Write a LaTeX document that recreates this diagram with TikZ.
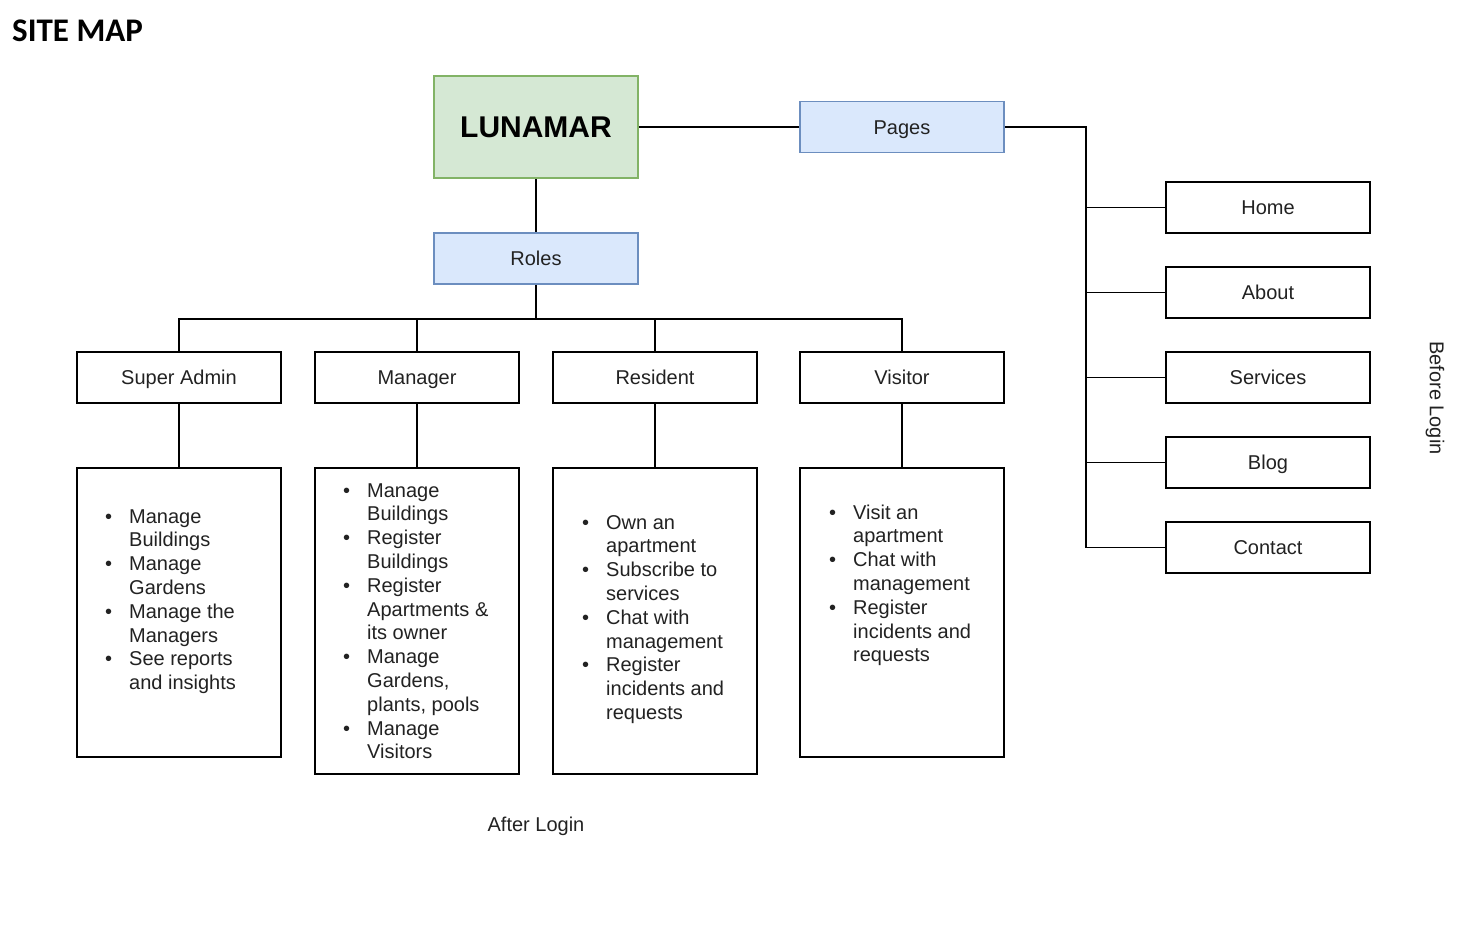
\documentclass[tikz,border=0pt]{standalone}
\usepackage{fontspec}
\setmainfont{Liberation Sans}
\newfontfamily\titlefont{Carlito}
\usetikzlibrary{calc}
\definecolor{greenfill}{HTML}{D5E8D4}
\definecolor{greendraw}{HTML}{82B366}
\definecolor{bluefill}{HTML}{DAE8FC}
\definecolor{bluedraw}{HTML}{6C8EBF}
\definecolor{txt}{HTML}{222222}
\newcommand\bul{\makebox[24pt][l]{\textbullet}}
\begin{document}
\begin{tikzpicture}[x=1pt,y=-1pt,
  font=\fontsize{20}{23.8}\selectfont, text=txt,
  conn/.style={draw=black, line width=1.5pt},
  box/.style={draw=black, fill=white, rectangle, minimum width=204pt, minimum height=51pt, inner sep=0pt, line width=1.5pt, text height=14.4pt, text depth=0pt},
  bluebox/.style={box, draw=bluedraw, fill=bluefill},
  greenbox/.style={box, draw=greendraw, fill=greenfill, minimum height=102pt, text height=21.6pt},
  listbox/.style={box, minimum height=#1},
  listtext/.style={anchor=base west, inner sep=0pt},
  plain/.style={inner sep=0pt}]
\useasboundingbox (0,0) rectangle (1484,946);

% title
\node[anchor=base west, inner sep=0pt, text=black, font=\titlefont\bfseries\fontsize{33}{36}\selectfont] (title) at (12,41) {SITE MAP};

% top level
\node[greenbox, font=\bfseries\fontsize{30}{34}\selectfont, text=black] (lunamar) at (536,127) {LUNAMAR};
\node[bluebox] (pages) at (902,127) {Pages};
\node[bluebox] (roles) at (536,258.5) {Roles};

% roles
\node[box] (sa)  at (179,377.5) {Super Admin};
\node[box] (man) at (417,377.5) {Manager};
\node[box] (res) at (655,377.5) {Resident};
\node[box] (vis) at (902,377.5) {Visitor};

% lists
\node[listbox=289pt] (salist)  at (179,612.5) {};
\node[listbox=306pt] (manlist) at (417,621) {};
\node[listbox=306pt] (reslist) at (655,621) {};
\node[listbox=289pt] (vislist) at (902,612.5) {};

\node[listtext] (satext) at (105,523) {\begin{tabular}[t]{@{}l@{}l@{}}
\bul & Manage\\ & Buildings\\
\bul & Manage\\ & Gardens\\
\bul & Manage the\\ & Managers\\
\bul & See reports\\ & and insights
\end{tabular}};

\node[listtext] (mantext) at (343,497) {\begin{tabular}[t]{@{}l@{}l@{}}
\bul & Manage\\ & Buildings\\
\bul & Register\\ & Buildings\\
\bul & Register\\ & Apartments \&\\ & its owner\\
\bul & Manage\\ & Gardens,\\ & plants, pools\\
\bul & Manage\\ & Visitors
\end{tabular}};

\node[listtext] (restext) at (582,529) {\begin{tabular}[t]{@{}l@{}l@{}}
\bul & Own an\\ & apartment\\
\bul & Subscribe to\\ & services\\
\bul & Chat with\\ & management\\
\bul & Register\\ & incidents and\\ & requests
\end{tabular}};

\node[listtext] (vistext) at (829,519) {\begin{tabular}[t]{@{}l@{}l@{}}
\bul & Visit an\\ & apartment\\
\bul & Chat with\\ & management\\
\bul & Register\\ & incidents and\\ & requests
\end{tabular}};

% pages
\node[box] (home)     at (1268,207.5) {Home};
\node[box] (about)    at (1268,292.5) {About};
\node[box] (services) at (1268,377.5) {Services};
\node[box] (blog)     at (1268,462.5) {Blog};
\node[box] (contact)  at (1268,547.5) {Contact};

% labels
\node[plain, rotate=-90] (before) at (1435,398) {Before Login};
\node[plain] (after) at (536,826) {After Login};

% connectors
\draw[conn] (lunamar.east) -- (pages.west);
\draw[conn] (lunamar.south) -- (roles.north);
\coordinate (rb) at ($(roles.south)+(0,34)$);
\draw[conn] (roles.south) -- (rb);
\draw[conn] (sa.north) |- (rb) -| (vis.north);
\draw[conn] (man.north) -- (man.north |- rb);
\draw[conn] (res.north) -- (res.north |- rb);
\draw[conn] (sa.south) -- (salist.north);
\draw[conn] (man.south) -- (manlist.north);
\draw[conn] (res.south) -- (reslist.north);
\draw[conn] (vis.south) -- (vislist.north);

\coordinate (pb) at ($(pages.east)+(81,0)$);
\draw[conn] (pages.east) -- (pb) |- (contact.west);
\foreach \n in {home,about,services,blog}
  \draw[conn] (pb |- \n.west) -- (\n.west);
\end{tikzpicture}
\end{document}
